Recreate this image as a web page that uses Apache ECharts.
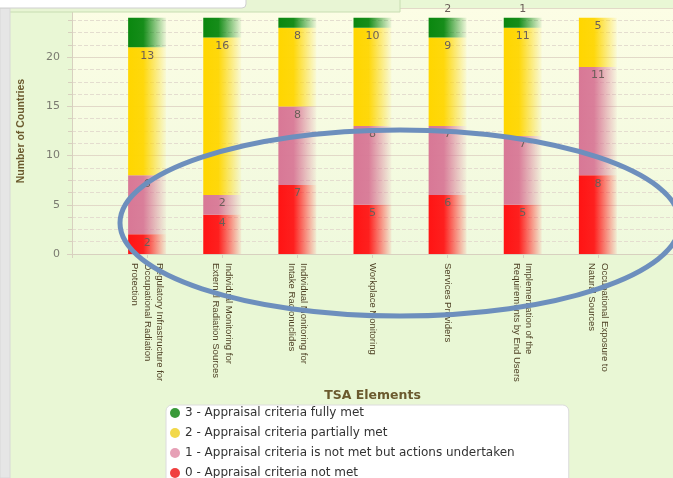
<!DOCTYPE html>
<html><head><meta charset="utf-8">
<script src="https://cdn.jsdelivr.net/npm/echarts@6/dist/echarts.min.js"></script>
<style>html,body{margin:0;padding:0;background:#e9f7d5}#c{width:673px;height:478px}</style>
</head><body><div id="c"></div>
<script>
const categories = [
  'Regulatory Infrastructure for\nOccupational Radiation\nProtection',
  'Individual Monitoring for\nExternal Radiation Sources',
  'Individual Monitoring for\nIntake Radionuclides',
  'Workplace Monitoring',
  'Services Providers',
  'Implementation of the\nRequirements by End Users',
  'Occupational Exposure to\nNatural Sources'
];
const notMet = [2, 4, 7, 5, 6, 5, 8];
const notMetActions = [6, 2, 8, 8, 7, 7, 11];
const partiallyMet = [13, 16, 8, 10, 9, 11, 5];
const fullyMet = [3, 2, 1, 1, 2, 1, 0];
const seriesNames = [
  '0 - Appraisal criteria not met',
  '1 - Appraisal criteria is not met but actions undertaken',
  '2 - Appraisal criteria partially met',
  '3 - Appraisal criteria fully met'
];
const yTicks = [0, 5, 10, 15, 20, 25];

const VER = "'DejaVu Sans', sans-serif";
const NAR = "'Liberation Sans', Arial, sans-serif";
const colors = [[255,20,20],[216,120,150],[255,214,0],[10,135,15]];
const axisCats = [''].concat(categories, ['']);
function pad(arr){ return ['-'].concat(arr, ['-']); }
function grad(c){
  return new echarts.graphic.LinearGradient(0,0,1,0,[
    {offset:0, color:`rgb(${c})`},
    {offset:0.4, color:`rgba(${c},0.95)`},
    {offset:1, color:`rgba(${c},0.05)`}
  ]);
}
const dataSets = [notMet, notMetActions, partiallyMet, fullyMet];
const series = dataSets.map((d,i)=>({
  name: seriesNames[i],
  type: 'bar',
  stack: 'total',
  barWidth: 38,
  data: pad(d),
  itemStyle: {color: grad(colors[i])},
  label: {
    show: true,
    position: i === 3 ? 'top' : 'insideTop',
    distance: 3,
    color: '#6b5e58',
    fontFamily: VER,
    fontSize: 11,
    formatter: p => (p.value ? String(p.value) : '')
  }
}));

const chart = echarts.init(document.getElementById('c'), null, {renderer:'canvas'});
chart.setOption({
  backgroundColor: '#e9f7d5',
  animation: false,
  textStyle: {fontFamily: VER},
  grid: {
    left: 72, right: -9, top: 8, bottom: 224,
    show: true, borderWidth: 0,
    backgroundColor: new echarts.graphic.LinearGradient(0,0,0,1,[
      {offset:0, color:'#fcfde5'},{offset:1, color:'#eff9dd'}
    ])
  },
  legend: {
    orient: 'vertical',
    left: 166, top: 405,
    width: 420, height: 120,
    padding: [2, 54, 6, 4],
    itemGap: 8,
    itemWidth: 10, itemHeight: 10,
    icon: 'circle',
    backgroundColor: '#ffffff',
    borderColor: '#dcdcdc', borderWidth: 1, borderRadius: 6,
    textStyle: {fontFamily: VER, fontSize: 12, color: '#333'},
    data: [
      {name: seriesNames[3], itemStyle: {color: '#3a9a3a'}},
      {name: seriesNames[2], itemStyle: {color: '#f2d84a'}},
      {name: seriesNames[1], itemStyle: {color: '#e6a0b6'}},
      {name: seriesNames[0], itemStyle: {color: '#f04040'}}
    ]
  },
  xAxis: {
    type: 'category',
    data: axisCats,
    boundaryGap: false,
    name: 'TSA Elements',
    nameLocation: 'middle',
    nameGap: 127,
    nameTextStyle: {fontFamily: VER, fontWeight: 'bold', fontSize: 12.5, color: '#6b5a2e'},
    axisLine: {lineStyle: {color: '#d8d0bf'}},
    axisTick: {show: true, length: 4, lineStyle: {color: '#d8d0bf'}},
    axisLabel: {
      interval: 0, rotate: -90, margin: 9,
      fontFamily: NAR,
      fontSize: 9.5, lineHeight: 12.5, color: '#4f4226'
    },
    splitLine: {show: false}
  },
  yAxis: {
    type: 'value',
    min: yTicks[0], max: yTicks[yTicks.length-1], interval: 5,
    name: 'Number of Countries',
    nameLocation: 'middle',
    nameGap: 45,
    nameTextStyle: {fontFamily: NAR, fontWeight: 'bold', fontSize: 10.5, color: '#6b5a2e'},
    axisLine: {show: true, lineStyle: {color: '#d8d0bf'}},
    axisTick: {show: true, length: 5, lineStyle: {color: '#d8d0bf'}},
    minorTick: {show: true, splitNumber: 4, length: 4, lineStyle: {color: '#d8d0bf'}},
    axisLabel: {margin: 12, fontFamily: VER, fontSize: 11, color: '#7a7a70'},
    splitLine: {show: true, lineStyle: {color: '#e2d9c8'}},
    minorSplitLine: {show: true, lineStyle: {color: '#e4ddcf', type: 'dashed'}}
  },
  series: series,
  graphic: [
    {type: 'ellipse', z: 100, shape: {cx: 400, cy: 223, rx: 280, ry: 93},
     style: {fill: 'none', stroke: '#6d8fbd', lineWidth: 5}},
    {type: 'rect', z: 100, shape: {x: 5, y: -6, width: 395, height: 18},
     style: {fill: '#e8f5d4', stroke: '#c8ddb2', lineWidth: 1}},
    {type: 'rect', z: 101, shape: {x: -6, y: -12, width: 252, height: 20, r: 4},
     style: {fill: '#ffffff', stroke: '#cfcfcf', lineWidth: 1}},
    {type: 'text', z: 102, left: 14, top: -9,
     style: {text: 'Selected', fill: '#aaa', font: "12px 'DejaVu Sans'"}},
    {type: 'rect', z: 100, shape: {x: 0, y: 8, width: 10, height: 470},
     style: {fill: '#e6e6e6', stroke: '#d8d8d8', lineWidth: 1}}
  ]
});
</script></body></html>
